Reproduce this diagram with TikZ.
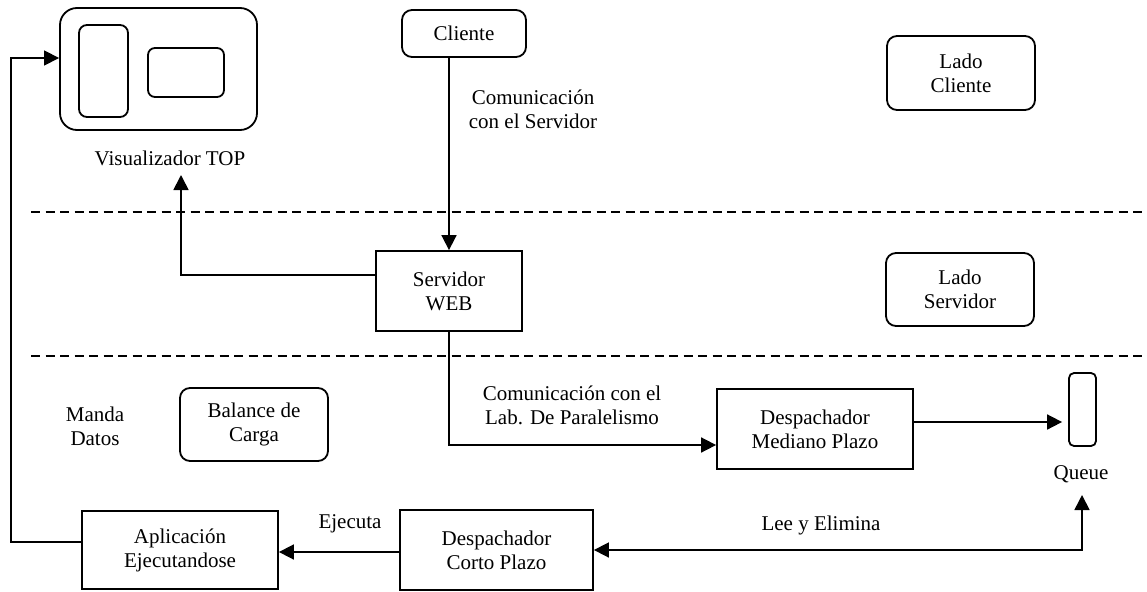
\documentclass[tikz,border=0pt]{standalone}
\usepackage{fontspec}
\setmainfont{Liberation Serif}
\usetikzlibrary{arrows.meta}
\begin{document}
\begin{tikzpicture}[x=1pt,y=-1pt,
  every node/.style={font=\fontsize{21}{24}\selectfont},
  box/.style={draw,line width=1.8pt,inner sep=0pt,align=center},
  rbox/.style={box,rounded corners=10pt},
  txt/.style={inner sep=0pt,align=center},
  tip/.tip={Triangle[length=15pt,width=15pt]},
  conn/.style={line width=1.7pt,-tip},
  sep/.style={line width=1.5pt,dash pattern=on 9pt off 5.5pt}]
\useasboundingbox (0,0) rectangle (1147,591);
% separators
\draw[sep] (31,212) -- (1147,212);
\draw[sep] (31,356) -- (1147,356);
% Visualizador TOP
\node[box,rounded corners=17pt,minimum width=197pt,minimum height=122pt] (vis) at (158.5,69) {};
\node[box,rounded corners=8pt,minimum width=49pt,minimum height=92pt] (visl) at (103.5,71) {};
\node[box,rounded corners=7pt,minimum width=76pt,minimum height=49pt] (visr) at (186,72.5) {};
\node[txt,anchor=base] (vislab) at (170,165) {Visualizador TOP};
% nodes
\node[rbox,minimum width=124pt,minimum height=47pt] (cli) at (464,33.5) {Cliente};
\node[rbox,minimum width=148pt,minimum height=74pt] (ladoc) at (961,73) {Lado\\Cliente};
\node[box,minimum width=146pt,minimum height=80pt] (web) at (449,291) {Servidor\\WEB};
\node[rbox,minimum width=148pt,minimum height=73pt] (lados) at (960,289.5) {Lado\\Servidor};
\node[txt] (manda) at (95,426) {Manda\\Datos};
\node[rbox,minimum width=148pt,minimum height=73pt] (bal) at (254,424.5) {Balance de\\Carga};
\node[box,minimum width=196pt,minimum height=80pt] (med) at (815,429) {Despachador\\Mediano Plazo};
\node[box,rounded corners=5pt,minimum width=27pt,minimum height=73pt] (queue) at (1082.5,409.5) {};
\node[txt,anchor=base] (queuelab) at (1081,479) {Queue};
\node[box,minimum width=196pt,minimum height=78pt] (apl) at (180,550) {Aplicación\\Ejecutandose};
\node[box,minimum width=193pt,minimum height=80pt] (corto) at (496.5,550) {Despachador\\Corto Plazo};
% labels
\node[txt] (lcom1) at (533,109) {Comunicación\\con el Servidor};
\node[txt] (lcom2) at (572,405) {Comunicación con el\\Lab. De Paralelismo};
\node[txt,anchor=base] (lejec) at (350,528) {Ejecuta};
\node[txt,anchor=base] (llee) at (821,530) {Lee y Elimina};
% coordinates
\coordinate (vtip) at (181,175);
\coordinate (qtip) at (1082,495);
\coordinate (lc) at (11,58);
\coordinate (mq) at ([yshift=7pt]med.east);
% connectors
\draw[conn] (web.north |- cli.south) -- (web.north);
\draw[conn] ([yshift=16pt]web.west) -| (vtip);
\draw[conn] (web.south) |- ([yshift=-16pt]med.west);
\draw[conn,shorten >=6pt] (mq) -- (queue.west |- mq);
\draw[line width=1.7pt,tip-tip] (corto.east) -| (qtip);
\draw[conn] ([yshift=-2pt]corto.west) -- ([yshift=-2pt]apl.east);
\draw[line width=1.3pt,-tip] ([yshift=8pt]apl.west) -| (lc) -- (vis.west |- lc);
\end{tikzpicture}
\end{document}
